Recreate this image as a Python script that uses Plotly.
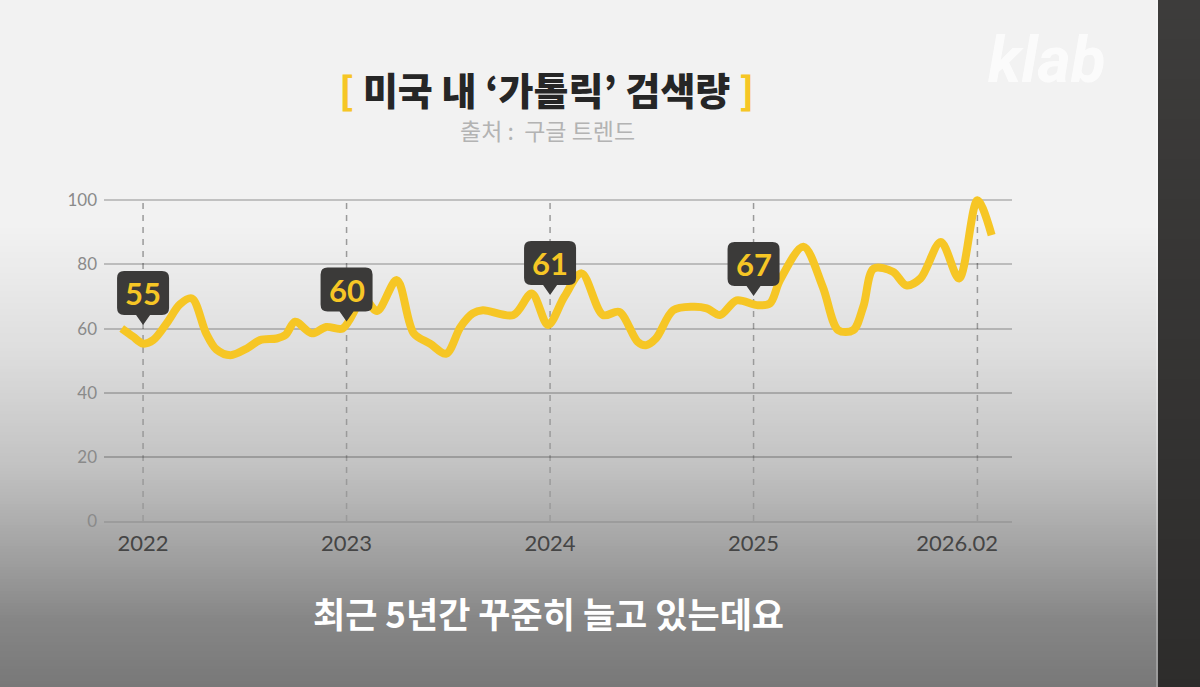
import plotly.graph_objects as go

# ---------------- data ----------------
years = [2021.895, 2021.95, 2022.00, 2022.05, 2022.12, 2022.18, 2022.24, 2022.31, 2022.36,
         2022.43, 2022.51, 2022.575, 2022.657, 2022.70, 2022.747, 2022.83, 2022.90, 2022.98,
         2023.05, 2023.08, 2023.15, 2023.247, 2023.33, 2023.41, 2023.49, 2023.56, 2023.62,
         2023.67, 2023.82, 2023.91, 2023.99, 2024.07, 2024.155, 2024.26, 2024.34, 2024.43,
         2024.47, 2024.52, 2024.605, 2024.70, 2024.77, 2024.835, 2024.917, 2025.016, 2025.08,
         2025.13, 2025.245, 2025.34, 2025.416, 2025.49, 2025.54, 2025.59, 2025.685, 2025.75,
         2025.82, 2025.92, 2026.01, 2026.10, 2026.17]
search_volume = [60.0, 57.5, 55.3, 56.4, 62.0, 67.5, 69.4, 58.5, 53.5,
                 51.7, 53.8, 56.4, 56.9, 58.0, 62.1, 58.5, 60.5, 60.0,
                 66.8, 70.0, 65.5, 75.1, 58.5, 55.3, 52.2, 60.5, 64.7,
                 65.7, 64.2, 70.9, 61.1, 69.9, 77.2, 64.2, 65.2, 55.9,
                 54.8, 56.9, 65.7, 66.8, 66.3, 64.2, 68.8, 67.3, 67.8,
                 75.1, 85.5, 73.0, 59.5, 59.5, 67.0, 78.7, 77.7, 73.5,
                 75.6, 87.0, 75.6, 100.0, 89.1]

tick_vals = [2022, 2023, 2024, 2025, 2026.0]
tick_text = ["2022", "2023", "2024", "2025", "2026.02"]
marker_lines = [2022, 2023, 2024, 2025, 2026.1]
y_ticks = [0, 20, 40, 60, 80, 100]

badge_years = [2022, 2023, 2024, 2025]
badge_labels = ["55", "60", "61", "67"]

# ---------------- layout constants (style / positions) ----------------
W, H = 1200, 687
L, R, T, B = 104, 1012, 181, 521
PW, PH = R - L, B - T
X_RANGE = [2021.808, 2026.270]
Y_RANGE = [0, 106]
px_per_x = PW / (X_RANGE[1] - X_RANGE[0])
px_per_y = PH / (Y_RANGE[1] - Y_RANGE[0])
badge_bottoms = [64.2, 65.3, 73.6, 73.3]   # badge placement (data units)

YELLOW = "#F6C625"
BADGE = "#3b3a39"


def paper_x(px):
    return (px - L) / PW


def paper_y(py):
    return (B - py) / PH


def gray_at(py):
    stops = [(0, 242), (225, 242), (350, 222), (467, 194), (567, 156), (620, 134), (687, 120)]
    for (a, ca), (b, cb) in zip(stops, stops[1:]):
        if a <= py <= b:
            t = (py - a) / (b - a)
            return int(round(ca + (cb - ca) * t))
    return stops[-1][1]


shapes = []
# background gradient strips
step = 3
for py in range(0, H + step, step):
    g = gray_at(py + step / 2)
    shapes.append(dict(type="rect", xref="paper", yref="paper",
                       x0=paper_x(-5), x1=paper_x(W + 5),
                       y0=paper_y(py + step + 0.5), y1=paper_y(py),
                       fillcolor=f"rgb({g},{g},{g})", line=dict(width=0), layer="below"))

# dark side bar on the right
for i in range(0, H, 20):
    t = i / H
    c = int(round(61 - 16 * t))
    shapes.append(dict(type="rect", xref="paper", yref="paper",
                       x0=paper_x(1158), x1=paper_x(W + 5),
                       y0=paper_y(i + 20.5), y1=paper_y(i - 0.5),
                       fillcolor=f"rgb({c},{c - 1},{c - 2})", line=dict(width=0), layer="below"))
shapes.append(dict(type="line", xref="paper", yref="paper",
                   x0=paper_x(1157), x1=paper_x(1157), y0=paper_y(0), y1=paper_y(H),
                   line=dict(color="rgba(255,255,255,0.5)", width=1), layer="below"))

# vertical dashed year lines
for tv in marker_lines:
    shapes.append(dict(type="line", xref="x", yref="y", x0=tv, x1=tv, y0=0, y1=100,
                       line=dict(color="#9a9a9a", width=1.5, dash="6px,6px"), layer="below"))

# badges (rounded box + pointer)
bw, bh, rad, th, tw = 52, 44, 7, 10, 7
annotations = []
for yr, lab, yb in zip(badge_years, badge_labels, badge_bottoms):
    dx = lambda p: p / px_per_x
    dy = lambda p: p / px_per_y
    x0, x1 = yr - dx(bw / 2), yr + dx(bw / 2)
    yt = yb + dy(bh)
    rx, ry = dx(rad), dy(rad)
    path = (f"M {x0 + rx},{yt} L {x1 - rx},{yt} Q {x1},{yt} {x1},{yt - ry} "
            f"L {x1},{yb + ry} Q {x1},{yb} {x1 - rx},{yb} "
            f"L {yr + dx(tw)},{yb} L {yr},{yb - dy(th)} L {yr - dx(tw)},{yb} "
            f"L {x0 + rx},{yb} Q {x0},{yb} {x0},{yb + ry} "
            f"L {x0},{yt - ry} Q {x0},{yt} {x0 + rx},{yt} Z")
    shapes.append(dict(type="path", xref="x", yref="y", path=path,
                       fillcolor=BADGE, line=dict(width=0), layer="above"))
    annotations.append(dict(x=yr, y=yb + dy(bh / 2), xref="x", yref="y", text=f"<b>{lab}</b>",
                            showarrow=False, xanchor="center", yanchor="middle",
                            font=dict(family="Lato", size=31, color=YELLOW, weight=900)))

# title, subtitle, caption, logo
annotations.append(dict(
    x=paper_x(546), y=paper_y(88), xref="paper", yref="paper", showarrow=False,
    xanchor="center", yanchor="middle",
    text=(f"<span style='color:{YELLOW}'>[</span> 미국 내 ‘가톨릭’ 검색량 "
          f"<span style='color:{YELLOW}'>]</span>"),
    font=dict(family="Noto Sans CJK KR", size=38, color="#262626", weight=900)))
annotations.append(dict(
    x=paper_x(547), y=paper_y(130), xref="paper", yref="paper", showarrow=False,
    xanchor="center", yanchor="middle", text="출처 :  구글 트렌드",
    font=dict(family="Noto Sans CJK KR", size=23, color="#b3b3b3")))
annotations.append(dict(
    x=paper_x(548), y=paper_y(612), xref="paper", yref="paper", showarrow=False,
    xanchor="center", yanchor="middle", text="최근 5년간 꾸준히 늘고 있는데요",
    font=dict(family="Noto Sans CJK KR", size=35, color="#ffffff", weight=700)))
annotations.append(dict(
    x=paper_x(1047), y=paper_y(61), xref="paper", yref="paper", showarrow=False,
    xanchor="center", yanchor="middle", text="<b><i>klab</i></b>",
    font=dict(family="Roboto", size=64, color="#ffffff", weight=900, style="italic"),
    opacity=0.75))

fig = go.Figure()
fig.add_trace(go.Scatter(
    x=years, y=search_volume, mode="lines",
    line=dict(color=YELLOW, width=8, shape="spline", smoothing=0.9),
    hoverinfo="skip", showlegend=False))

fig.update_layout(
    width=W, height=H,
    margin=dict(l=L, r=W - R, t=T, b=H - B, pad=0),
    paper_bgcolor="#f2f2f2", plot_bgcolor="rgba(0,0,0,0)",
    shapes=shapes, annotations=annotations, showlegend=False,
    xaxis=dict(range=X_RANGE, tickvals=tick_vals, ticktext=tick_text, showgrid=False,
               zeroline=False, showline=True, linecolor="#9c9c9c", linewidth=2,
               ticks="", ticklabelstandoff=2,
               tickfont=dict(family="Lato", size=22, color="#454545")),
    yaxis=dict(range=Y_RANGE, tickvals=y_ticks, showgrid=True, gridcolor="rgba(0,0,0,0.2)",
               gridwidth=1.5, zeroline=False, showline=False, ticks="", ticklabelstandoff=6,
               tickfont=dict(family="Lato", size=17, color="#8a8a8a")),
)

fig.write_html("out.html")
